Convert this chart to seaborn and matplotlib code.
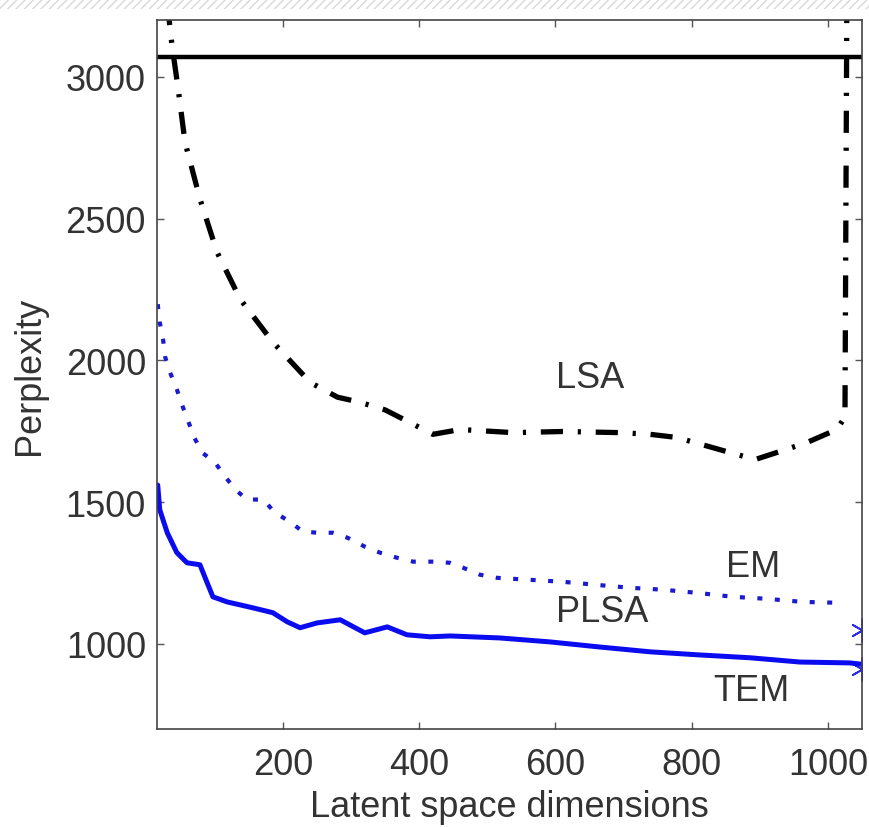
import numpy as np
import matplotlib
matplotlib.use("Agg")
import matplotlib.pyplot as plt
import matplotlib.patches as mpatches
import pandas as pd
import seaborn as sns

# values
lsa_x = [30, 37, 46, 56, 78, 103, 137, 185, 240, 280, 313, 350, 386, 420, 460,
         538, 611, 695, 739, 778, 856, 893, 925, 969, 1013, 1025, 1028]
lsa_y = [3260, 3110, 2958, 2770, 2569, 2382, 2216, 2064, 1922, 1870, 1852, 1825,
         1781, 1739, 1756, 1745, 1749, 1745, 1739, 1728, 1675, 1650, 1675, 1710,
         1756, 1800, 3400]

em_x = [16, 19, 24, 27, 34, 44, 52, 61, 69, 81, 100, 115, 130, 147, 171, 188, 210,
        229, 251, 273, 295, 320, 342, 367, 391, 419, 445, 464, 489, 514, 562, 611,
        661, 709, 758, 808, 861, 910, 963, 1015]
em_y = [2198, 2134, 2071, 2011, 1958, 1898, 1841, 1784, 1731, 1675, 1640, 1590,
        1544, 1509, 1509, 1463, 1431, 1396, 1392, 1392, 1374, 1343, 1322, 1304,
        1290, 1290, 1286, 1269, 1244, 1233, 1226, 1219, 1208, 1198, 1191, 1180,
        1166, 1159, 1148, 1145]

tem_x = [16, 19, 30, 44, 59, 78, 85, 97, 118, 156, 185, 206, 225, 250, 284, 298,
         320, 353, 382, 416, 445, 518, 592, 665, 739, 812, 886, 959, 1032, 1050]
tem_y = [1560, 1473, 1392, 1322, 1286, 1279, 1237, 1166, 1148, 1127, 1110, 1078,
         1057, 1074, 1085, 1067, 1039, 1060, 1032, 1025, 1028, 1021, 1007, 989,
         972, 961, 951, 936, 933, 928]

baseline = 3070
end_x = [1050, 1050]
end_y = [1050, 910]

labels = ["LSA", "EM", "PLSA", "TEM"]
label_x = [651, 890, 668, 888]
label_y = [1940, 1272, 1113, 837]

sns.set_style("white")
plt.rcParams['font.family'] = ['Liberation Sans', 'DejaVu Sans']

fig = plt.figure(figsize=(8.7, 8.28), dpi=100)
ax = fig.add_axes([0.1805, 0.1184, 0.8103, 0.8562])

# hatched strip at the very top of the screenshot
fig.patches.append(mpatches.Rectangle((0, 0.988), 1, 0.012, transform=fig.transFigure,
                                      facecolor='white', edgecolor='#d8d8d8',
                                      hatch='////', linewidth=0))

ax.axhline(baseline, color='black', linewidth=3.2)

# dash patterns are in units of line width
sns.lineplot(x=lsa_x, y=lsa_y, ax=ax, color='black', linewidth=3.8,
             sort=False, estimator=None)
ax.lines[-1].set_dashes([4.2, 2.8, 0.6, 2.8])
ax.lines[-1].set_dash_capstyle('butt')

sns.lineplot(x=em_x, y=em_y, ax=ax, color='#1a1ad0', linewidth=3,
             sort=False, estimator=None)
ax.lines[-1].set_dashes([1.2, 3])

sns.lineplot(x=tem_x, y=tem_y, ax=ax, color='#0b0bf0', linewidth=3.6,
             sort=False, estimator=None)
sns.scatterplot(x=end_x, y=end_y, ax=ax, color='#2a2af0', marker=(6, 2, 0),
                s=260, linewidth=1.3)

for t, tx, ty in zip(labels, label_x, label_y):
    ax.text(tx, ty, t, ha='center', va='center', fontsize=26, color='#333333')

ax.set_xlim(15, 1050)
ax.set_ylim(700, 3200)
ax.set_xticks([200, 400, 600, 800, 1000])
ax.set_yticks([1000, 1500, 2000, 2500, 3000])
ax.tick_params(direction='in', length=5, width=1, color='#555555',
               bottom=True, left=True, top=True, right=True,
               labelsize=26, labelcolor='#333333')
ax.tick_params(axis='x', pad=13)
ax.tick_params(axis='y', pad=8)
for sp in ax.spines.values():
    sp.set_color('#444444')
    sp.set_linewidth(1.2)

ax.set_xlabel('Latent space dimensions', fontsize=26, color='#333333', labelpad=5)
ax.set_ylabel('Perplexity', fontsize=26, color='#333333', labelpad=13)

fig.savefig('out.png', dpi=100)
